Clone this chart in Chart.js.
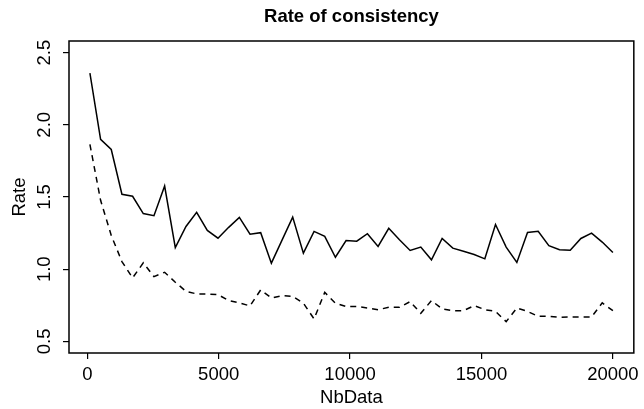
<!DOCTYPE html>
<html>
<head>
<meta charset="utf-8">
<script src="https://cdn.jsdelivr.net/npm/chart.js@4.4.1/dist/chart.umd.min.js"></script>
<style>
  html, body { margin: 0; padding: 0; background: #fff; }
  #wrap { width: 644px; height: 409px; }
</style>
</head>
<body>
<div id="wrap"><canvas id="chart" width="644" height="409"></canvas></div>
<script>
// Data
const nbData = [100, 506, 912, 1318, 1724, 2131, 2537, 2943, 3349, 3755,
  4161, 4567, 4973, 5380, 5786, 6192, 6598, 7004, 7410, 7816,
  8222, 8629, 9035, 9441, 9847, 10253, 10659, 11065, 11471, 11878,
  12284, 12690, 13096, 13502, 13908, 14314, 14720, 15127, 15533, 15939,
  16345, 16751, 17157, 17563, 17969, 18376, 18782, 19188, 19594, 20000];

const rateSolid = [2.357, 1.899, 1.829, 1.519, 1.505, 1.385, 1.371, 1.576, 1.149, 1.296,
  1.394, 1.269, 1.215, 1.290, 1.359, 1.243, 1.253, 1.042, 1.201, 1.361,
  1.111, 1.262, 1.227, 1.083, 1.199, 1.194, 1.246, 1.158, 1.283, 1.204,
  1.130, 1.153, 1.065, 1.213, 1.146, 1.125, 1.102, 1.072, 1.310, 1.153,
  1.047, 1.255, 1.262, 1.163, 1.135, 1.132, 1.213, 1.250, 1.188, 1.116];

const rateDashed = [1.864, 1.477, 1.234, 1.053, 0.940, 1.044, 0.949, 0.979, 0.910, 0.847,
  0.829, 0.829, 0.824, 0.783, 0.767, 0.746, 0.857, 0.801, 0.817, 0.812,
  0.765, 0.656, 0.840, 0.765, 0.742, 0.742, 0.732, 0.720, 0.736, 0.736,
  0.776, 0.695, 0.783, 0.725, 0.713, 0.713, 0.748, 0.720, 0.708, 0.637,
  0.732, 0.708, 0.674, 0.674, 0.667, 0.670, 0.670, 0.670, 0.767, 0.713];

const xTicks = [0, 5000, 10000, 15000, 20000];
const yTicks = [0.5, 1.0, 1.5, 2.0, 2.5];

const FONT = "'Liberation Sans', Arial, Helvetica, sans-serif";

// Box around the plot region + rotated y tick labels (R style)
const rStyle = {
  id: "rStyle",
  afterDraw(chart) {
    const { ctx, chartArea: a } = chart;
    const y = chart.scales.y;
    ctx.save();
    ctx.strokeStyle = "#000";
    ctx.lineWidth = 1.5;
    ctx.strokeRect(a.left, a.top, a.right - a.left, a.bottom - a.top);

    ctx.fillStyle = "#000";
    ctx.font = "18.5px " + FONT;
    ctx.textAlign = "center";
    ctx.textBaseline = "middle";
    yTicks.forEach(v => {
      const py = y.getPixelForValue(v);
      ctx.save();
      ctx.translate(45, py);
      ctx.rotate(-Math.PI / 2);
      ctx.fillText(v.toFixed(1), 0, 0);
      ctx.restore();
    });
    ctx.restore();
  }
};

const toPoints = vals => vals.map((v, i) => ({ x: nbData[i], y: v }));

new Chart(document.getElementById("chart"), {
  type: "line",
  data: {
    datasets: [
      {
        data: toPoints(rateSolid),
        borderColor: "#000",
        borderWidth: 1.5,
        pointRadius: 0,
        tension: 0
      },
      {
        data: toPoints(rateDashed),
        borderColor: "#000",
        borderWidth: 1.5,
        borderDash: [6, 5],
        pointRadius: 0,
        tension: 0
      }
    ]
  },
  options: {
    responsive: false,
    animation: false,
    events: [],
    layout: { padding: { left: 0, right: 6, top: 0, bottom: 0 } },
    plugins: {
      legend: { display: false },
      tooltip: { enabled: false },
      title: {
        display: true,
        fullSize: false,
        text: "Rate of consistency",
        color: "#000",
        font: { family: FONT, size: 18.5, weight: "bold" },
        padding: { top: 6, bottom: 12.8 }
      }
    },
    scales: {
      x: {
        type: "linear",
        min: -696,
        max: 20796,
        afterBuildTicks: s => { s.ticks = xTicks.map(v => ({ value: v })); },
        afterFit: s => { s.height = 56; },
        border: { display: false },
        grid: { drawOnChartArea: false, drawTicks: true, tickLength: 6, color: "#000", lineWidth: 1.2 },
        ticks: {
          color: "#000",
          font: { family: FONT, size: 18.5 },
          padding: 5,
          maxRotation: 0,
          autoSkip: false,
          callback: v => String(v)
        },
        title: {
          display: true,
          text: "NbData",
          color: "#000",
          font: { family: FONT, size: 18.5 },
          padding: { top: 0, bottom: 0 }
        }
      },
      y: {
        type: "linear",
        min: 0.42,
        max: 2.58,
        afterBuildTicks: s => { s.ticks = yTicks.map(v => ({ value: v })); },
        afterFit: s => { s.width = 69; },
        border: { display: false },
        grid: { drawOnChartArea: false, drawTicks: true, tickLength: 6, color: "#000", lineWidth: 1.2 },
        ticks: { callback: () => "" },
        title: {
          display: true,
          text: "Rate",
          color: "#000",
          font: { family: FONT, size: 18.5 },
          padding: { top: 9, bottom: 0 }
        }
      }
    }
  },
  plugins: [rStyle]
});
</script>
</body>
</html>
